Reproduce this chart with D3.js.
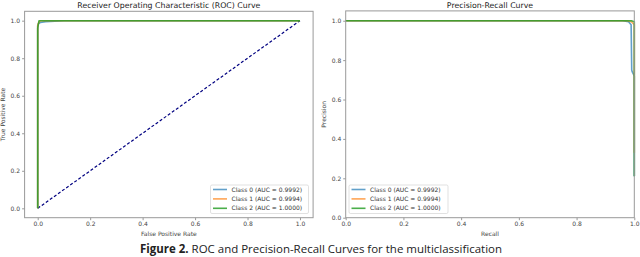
<!DOCTYPE html>
<html><head><meta charset="utf-8">
<script src="https://cdn.jsdelivr.net/npm/d3@7"></script>
<style>body{margin:0;background:#fff}svg{display:block}</style>
</head><body>
<svg id="c" width="640" height="257"></svg>
<script>
// ---- data ----
const classNames = ["Class 0", "Class 1", "Class 2"];
const rocAUC = ["0.9992", "0.9994", "1.0000"];
const prAUC = ["0.9992", "0.9994", "1.0000"];
const colors = ["#1f77b4", "#ff7f0e", "#2ca02c"];
const roc0_fpr = [0, 0, 0.003, 0.01, 0.03, 0.1, 1];
const roc0_tpr = [0, 0.97, 0.985, 0.99, 0.995, 1, 1];
const roc1_fpr = [0, 0, 0.004, 0.01, 1];
const roc1_tpr = [0, 0.975, 0.99, 1, 1];
const roc2_fpr = [0, 0, 0.005, 1];
const roc2_tpr = [0, 0.96, 1, 1];
const pr0_rec = [0, 0.96, 0.98, 0.989, 0.991, 0.993, 1, 1];
const pr0_prec = [1, 1, 0.995, 0.98, 0.75, 0.74, 0.72, 0.21];
const pr1_rec = [0, 0.975, 0.99, 0.997, 1, 1];
const pr1_prec = [1, 1, 0.995, 0.985, 0.98, 0.33];
const pr2_rec = [0, 0.99, 1, 1];
const pr2_prec = [1, 1, 0.995, 0.21];
const ticks = [0, 0.2, 0.4, 0.6, 0.8, 1.0];

const svg = d3.select("#c");
const font = "DejaVu Sans, sans-serif";

function panel(opt) {
  const x = d3.scaleLinear().domain(opt.xd).range([opt.x0, opt.x1]);
  const y = d3.scaleLinear().domain(opt.yd).range([opt.y1, opt.y0]);
  const g = svg.append("g");
  const ax = g.append("g").attr("transform", `translate(0,${opt.y1})`)
    .call(d3.axisBottom(x).tickValues(ticks).tickFormat(d3.format(".1f")).tickSize(2.5).tickPadding(2));
  const ay = g.append("g").attr("transform", `translate(${opt.x0},0)`)
    .call(d3.axisLeft(y).tickValues(ticks).tickFormat(d3.format(".1f")).tickSize(2.5).tickPadding(2));
  [ax, ay].forEach(a => {
    a.select(".domain").remove();
    a.selectAll("line").attr("stroke", "#555").attr("stroke-width", 0.6);
    a.selectAll("text").attr("font-family", font).attr("font-size", 6).attr("fill", "#444");
  });
  const line = d3.line().x(d => x(d[0])).y(d => y(d[1]));
  if (opt.diag) {
    g.append("path").attr("d", line([[0,0],[1,1]])).attr("fill","none")
      .attr("stroke", "#000080").attr("stroke-width", 1.2).attr("stroke-dasharray", "3,2");
  }
  opt.series.forEach((s, i) => {
    g.append("path").attr("d", line(s[0].map((v, k) => [v, s[1][k]])))
      .attr("fill", "none").attr("stroke", colors[i]).attr("stroke-width", 1.6)
      .attr("stroke-opacity", i === 2 ? 0.85 : 0.7).attr("stroke-linejoin", "round");
  });
  g.append("rect").attr("x", opt.x0).attr("y", opt.y0).attr("width", opt.x1 - opt.x0)
    .attr("height", opt.y1 - opt.y0).attr("fill", "none").attr("stroke", "#999").attr("stroke-width", 1);
  const cx = (opt.x0 + opt.x1) / 2;
  g.append("text").attr("x", cx).attr("y", 8).attr("text-anchor", "middle")
    .attr("font-family", font).attr("font-size", 7.8).attr("fill", "#222").text(opt.title);
  g.append("text").attr("x", cx).attr("y", 236).attr("text-anchor", "middle")
    .attr("font-family", font).attr("font-size", 6).attr("fill", "#444").text(opt.xlabel);
  g.append("text").attr("transform", `translate(${opt.ylx},${(opt.y0 + opt.y1) / 2}) rotate(-90)`)
    .attr("text-anchor", "middle").attr("font-family", font).attr("font-size", 6).attr("fill", "#444").text(opt.ylabel);
  const L = g.append("g");
  L.append("rect").attr("x", opt.lx).attr("y", 185).attr("width", opt.lw).attr("height", 28.5)
    .attr("rx", 1.5).attr("fill", "#fff").attr("fill-opacity", 0.8).attr("stroke", "#ccc").attr("stroke-width", 0.6);
  classNames.forEach((c, i) => {
    const yy = 189.5 + i * 9.4;
    L.append("line").attr("x1", opt.lx + 2.5).attr("x2", opt.lx + 16.5).attr("y1", yy).attr("y2", yy)
      .attr("stroke", colors[i]).attr("stroke-width", 1.6).attr("stroke-opacity", i === 2 ? 0.85 : 0.7);
    L.append("text").attr("x", opt.lx + 21).attr("y", yy + 2.1).attr("font-family", font)
      .attr("font-size", 6).attr("fill", "#333").text(`${c} (AUC = ${opt.auc[i]})`);
  });
}

panel({x0: 24.6, x1: 313.1, y0: 11.3, y1: 217.7, xd: [-0.05, 1.05], yd: [-0.05, 1.05],
  title: "Receiver Operating Characteristic (ROC) Curve", xlabel: "False Positive Rate", ylabel: "True Positive Rate",
  ylx: 4.5, diag: true, lx: 210.5, lw: 98, auc: rocAUC,
  series: [[roc0_fpr, roc0_tpr], [roc1_fpr, roc1_tpr], [roc2_fpr, roc2_tpr]]});
panel({x0: 345.7, x1: 634.3, y0: 10.9, y1: 217.7, xd: [0, 1], yd: [0, 1.05],
  title: "Precision-Recall Curve", xlabel: "Recall", ylabel: "Precision",
  ylx: 326, diag: false, lx: 349, lw: 99, auc: prAUC,
  series: [[pr0_rec, pr0_prec], [pr1_rec, pr1_prec], [pr2_rec, pr2_prec]]});

const cap = svg.append("text").attr("x", 321).attr("y", 253).attr("text-anchor", "middle")
  .attr("font-family", "Open Sans, Noto Sans, sans-serif").attr("font-size", 11).attr("fill", "#222");
cap.append("tspan").attr("font-weight", "bold").text("Figure 2.");
cap.append("tspan").text(" ROC and Precision-Recall Curves for the multiclassification");
const w = cap.node().getComputedTextLength();
cap.attr("font-size", 11 * 362 / w);
</script>
</body></html>
